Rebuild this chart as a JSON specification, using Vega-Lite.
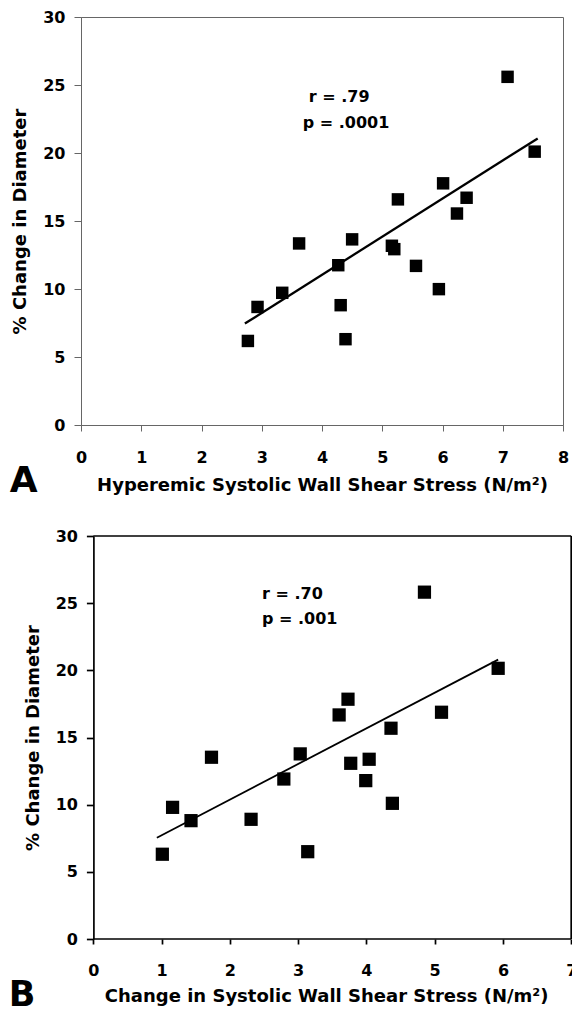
{
  "$schema": "https://vega.github.io/schema/vega-lite/v6.json",
  "padding": {"left": 8, "top": 8, "right": -3, "bottom": -7},
  "spacing": 28,
  "config": {
    "font": "DejaVu Sans",
    "view": {"strokeWidth": 1},
    "axis": {"grid": false, "labelFont": "DejaVu Sans", "labelFontSize": 16, "labelFontWeight": "bold", "labelColor": "black", "titleFont": "DejaVu Sans", "titleFontSize": 18, "titleFontWeight": "bold", "titleColor": "black", "labelOverlap": false, "labelFlush": false}
  },
  "datasets": {
    "ptsA": [
      {"x": 2.77, "y": 6.18}, {"x": 2.93, "y": 8.68}, {"x": 3.34, "y": 9.72}, {"x": 3.62, "y": 13.35},
      {"x": 4.27, "y": 11.75}, {"x": 4.31, "y": 8.81}, {"x": 4.39, "y": 6.31}, {"x": 4.50, "y": 13.65},
      {"x": 5.16, "y": 13.18}, {"x": 5.20, "y": 12.93}, {"x": 5.26, "y": 16.59}, {"x": 5.56, "y": 11.7},
      {"x": 5.94, "y": 9.99}, {"x": 6.01, "y": 17.77}, {"x": 6.24, "y": 15.55}, {"x": 6.40, "y": 16.71},
      {"x": 7.08, "y": 25.6}, {"x": 7.53, "y": 20.1}
    ],
    "lineA": [{"x": 2.72, "y": 7.46}, {"x": 7.58, "y": 21.07}],
    "txtA": [{"x": 3.78, "y": 24.1, "t": "r = .79"}, {"x": 3.68, "y": 22.2, "t": "p = .0001"}],
    "ptsB": [
      {"x": 1.01, "y": 6.31}, {"x": 1.16, "y": 9.8}, {"x": 1.43, "y": 8.81}, {"x": 1.73, "y": 13.53},
      {"x": 2.31, "y": 8.91}, {"x": 2.79, "y": 11.91}, {"x": 3.03, "y": 13.78}, {"x": 3.14, "y": 6.5},
      {"x": 3.60, "y": 16.68}, {"x": 3.73, "y": 17.85}, {"x": 3.77, "y": 13.08}, {"x": 3.99, "y": 11.79},
      {"x": 4.04, "y": 13.38}, {"x": 4.36, "y": 15.69}, {"x": 4.38, "y": 10.1}, {"x": 4.85, "y": 25.82},
      {"x": 5.10, "y": 16.88}, {"x": 5.93, "y": 20.15}
    ],
    "lineB": [{"x": 0.93, "y": 7.54}, {"x": 5.93, "y": 20.8}],
    "txtB": [{"x": 2.47, "y": 25.7, "t": "r = .70"}, {"x": 2.47, "y": 23.8, "t": "p = .001"}],
    "frameB": [
      {"x": 0, "x2": 7, "y": 30, "y2": 30},
      {"x": 7, "x2": 7, "y": 0, "y2": 30},
      {"x": 0, "x2": 7, "y": 0, "y2": 0}
    ]
  },
  "vconcat": [
    {
      "width": 482,
      "height": 408,
      "view": {"stroke": "#666"},
      "title": {"text": "A", "orient": "bottom", "anchor": "start", "frame": "group", "fontSize": 36, "fontWeight": "bold", "font": "DejaVu Sans", "color": "black", "dx": -71.3, "offset": -2, "baseline": "alphabetic"},
      "encoding": {
        "x": {"field": "x", "type": "quantitative", "scale": {"domain": [0, 8], "nice": false, "zero": false},
          "axis": {"title": "Hyperemic Systolic Wall Shear Stress (N/m²)", "values": [0, 1, 2, 3, 4, 5, 6, 7, 8], "format": "d", "tickSize": 6, "labelPadding": 18, "titlePadding": 11, "domainColor": "#666", "tickColor": "#666"}},
        "y": {"field": "y", "type": "quantitative", "scale": {"domain": [0, 30], "nice": false, "zero": false},
          "axis": {"title": "% Change in Diameter", "values": [0, 5, 10, 15, 20, 25, 30], "format": "d", "tickSize": 7, "labelPadding": 9, "titlePadding": 13, "domainColor": "#666", "tickColor": "#666"}}
      },
      "layer": [
        {"data": {"name": "ptsA"}, "mark": {"type": "point", "shape": "square", "filled": true, "color": "black", "opacity": 1, "size": 155}},
        {"data": {"name": "lineA"}, "mark": {"type": "line", "color": "black", "strokeWidth": 2.3}},
        {"data": {"name": "txtA"}, "mark": {"type": "text", "align": "left", "baseline": "middle", "fontSize": 16, "fontWeight": "bold", "font": "DejaVu Sans", "color": "black"}, "encoding": {"text": {"field": "t"}}}
      ]
    },
    {
      "width": 490.2,
      "height": 403,
      "view": {"stroke": null},
      "title": {"text": "B", "orient": "bottom", "anchor": "start", "frame": "group", "fontSize": 35, "fontWeight": "bold", "font": "DejaVu Sans", "color": "black", "dx": -72.3, "offset": 1, "baseline": "alphabetic"},
      "encoding": {
        "x": {"field": "x", "type": "quantitative", "scale": {"domain": [-0.1817, 7], "nice": false, "zero": false},
          "axis": {"title": "Change in Systolic Wall Shear Stress (N/m²)", "values": [0, 1, 2, 3, 4, 5, 6, 7], "format": "d", "domain": false, "tickSize": 5, "labelPadding": 18, "titlePadding": 9, "tickColor": "black", "tickWidth": 1.7}},
        "y": {"field": "y", "type": "quantitative", "scale": {"domain": [0, 30], "nice": false, "zero": false},
          "axis": {"title": "% Change in Diameter", "values": [0, 5, 10, 15, 20, 25, 30], "format": "d", "offset": -12.4, "tickSize": 7, "labelPadding": 9, "titlePadding": 13, "domainColor": "black", "tickColor": "black", "domainWidth": 1.7, "tickWidth": 1.7}}
      },
      "layer": [
        {"data": {"name": "frameB"}, "mark": {"type": "rule", "color": "black", "strokeWidth": 1.7}, "encoding": {"x2": {"field": "x2"}, "y2": {"field": "y2"}}},
        {"data": {"name": "ptsB"}, "mark": {"type": "point", "shape": "square", "filled": true, "color": "black", "opacity": 1, "size": 175}},
        {"data": {"name": "lineB"}, "mark": {"type": "line", "color": "black", "strokeWidth": 1.8}},
        {"data": {"name": "txtB"}, "mark": {"type": "text", "align": "left", "baseline": "middle", "fontSize": 16, "fontWeight": "bold", "font": "DejaVu Sans", "color": "black"}, "encoding": {"text": {"field": "t"}}}
      ]
    }
  ]
}
